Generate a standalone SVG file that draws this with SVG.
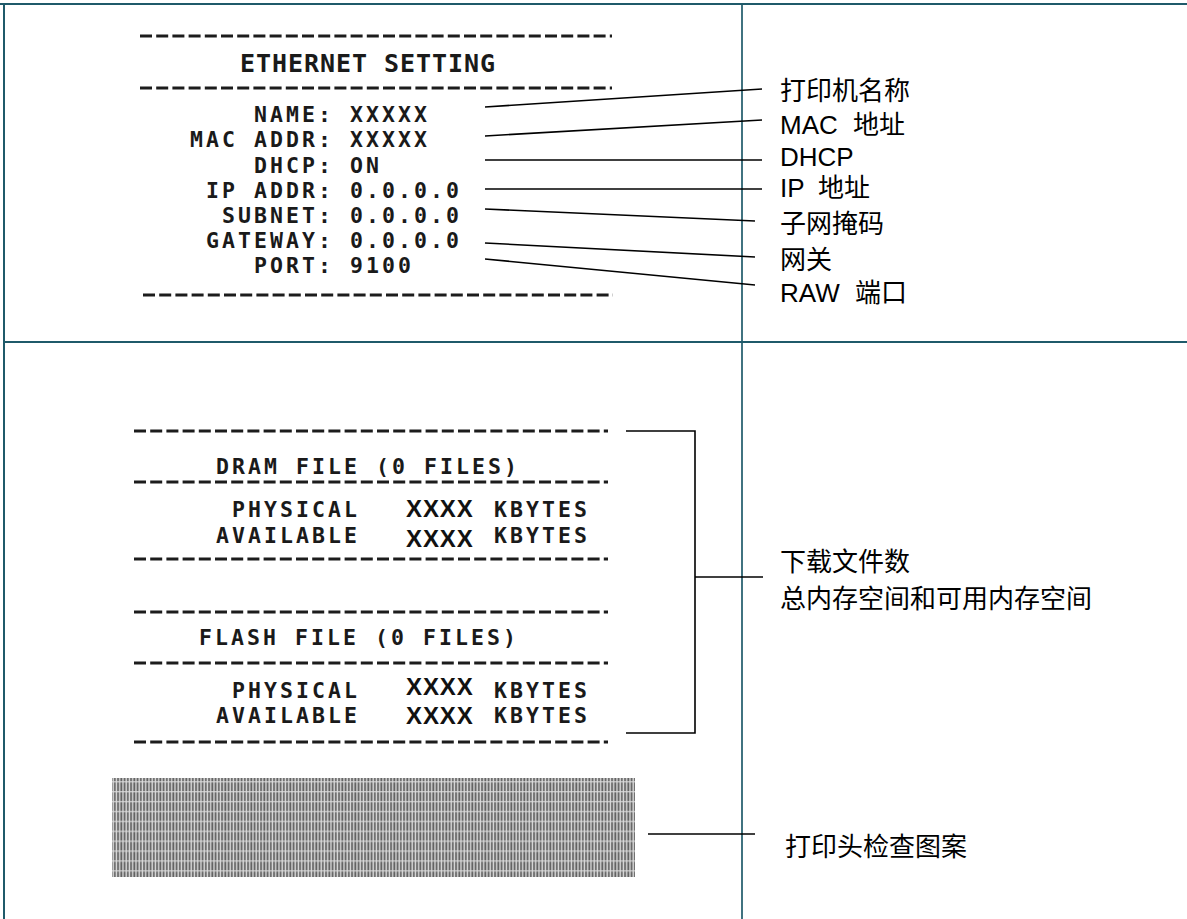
<svg xmlns="http://www.w3.org/2000/svg" width="1187" height="919" viewBox="0 0 1187 919">
<style>
.frame{stroke:#1f5a6a;fill:none}
.dash{stroke:#1c1c1c;stroke-width:3;stroke-dasharray:12 4.2;fill:none}
.pr{font-family:"DejaVu Sans Mono","Liberation Mono",monospace;font-weight:bold;font-size:21.5px;letter-spacing:3.05px;fill:#1a1a1a}
.prt{font-family:"DejaVu Sans Mono","Liberation Mono",monospace;font-weight:bold;font-size:25px;letter-spacing:0.95px;fill:#1a1a1a}
.xx{font-family:"Liberation Sans",Arial,sans-serif;font-weight:bold;font-size:24px;letter-spacing:0.9px;fill:#111}
.lbl{font-family:"Liberation Sans","Noto Sans CJK SC",sans-serif;font-size:26px;fill:#000}
.con line,.con path{stroke:#000;stroke-width:1.6;fill:none}
</style>
<defs>
<pattern id="stripes" patternUnits="userSpaceOnUse" width="3.25" height="9.9">
<rect x="0" y="0" width="3.25" height="9.9" fill="#dcdcdc"/>
<rect x="0.2" y="0.3" width="1.8" height="8.8" fill="#606060"/>
</pattern>
</defs>
<rect width="1187" height="919" fill="#fff"/>

<g id="frame">
<line class="frame" x1="0" y1="4" x2="1187" y2="4" stroke-width="2"/>
<line class="frame" x1="4" y1="3" x2="4" y2="919" stroke-width="2"/>
<line class="frame" x1="4" y1="342" x2="1187" y2="342" stroke-width="2.2"/>
<line class="frame" x1="742" y1="4" x2="742" y2="919" stroke-width="1.7"/>
</g>

<g id="ethernet-printout">
<line class="dash" x1="140" y1="36" x2="612" y2="36"/>
<text class="prt" x="240" y="72">ETHERNET SETTING</text>
<line class="dash" x1="140" y1="88" x2="612" y2="88"/>
<text class="pr" x="254" y="122">NAME:</text><text class="pr" x="350" y="122">XXXXX</text>
<text class="pr" x="190" y="147">MAC ADDR:</text><text class="pr" x="350" y="147">XXXXX</text>
<text class="pr" x="254" y="173">DHCP:</text><text class="pr" x="350" y="173">ON</text>
<text class="pr" x="206" y="198">IP ADDR:</text><text class="pr" x="350" y="198">0.0.0.0</text>
<text class="pr" x="222" y="223">SUBNET:</text><text class="pr" x="350" y="223">0.0.0.0</text>
<text class="pr" x="206" y="248">GATEWAY:</text><text class="pr" x="350" y="248">0.0.0.0</text>
<text class="pr" x="254" y="273">PORT:</text><text class="pr" x="350" y="273">9100</text>
<line class="dash" x1="143" y1="295" x2="613" y2="295"/>
</g>

<g id="ethernet-labels">
<text class="lbl" x="780" y="100">打印机名称</text>
<text class="lbl" x="780" y="134"><tspan>MAC </tspan><tspan x="853">地址</tspan></text>
<text class="lbl" x="780" y="166">DHCP</text>
<text class="lbl" x="780" y="197"><tspan>IP </tspan><tspan x="818">地址</tspan></text>
<text class="lbl" x="780" y="233">子网掩码</text>
<text class="lbl" x="780" y="269">网关</text>
<text class="lbl" x="780" y="302"><tspan>RAW </tspan><tspan x="855">端口</tspan></text>
</g>

<g id="dram-printout">
<line class="dash" x1="134" y1="431" x2="608" y2="431"/>
<text class="pr" x="216" y="474">DRAM FILE (0 FILES)</text>
<line class="dash" x1="134" y1="482" x2="608" y2="482"/>
<text class="pr" x="232" y="517">PHYSICAL</text><text class="xx" x="406" y="517">XXXX</text><text class="pr" x="494" y="517">KBYTES</text>
<text class="pr" x="216" y="543">AVAILABLE</text><text class="xx" x="406" y="547">XXXX</text><text class="pr" x="494" y="543">KBYTES</text>
<line class="dash" x1="134" y1="559" x2="608" y2="559"/>
</g>

<g id="flash-printout">
<line class="dash" x1="134" y1="612" x2="608" y2="612"/>
<text class="pr" x="199" y="645">FLASH FILE (0 FILES)</text>
<line class="dash" x1="134" y1="663" x2="608" y2="663"/>
<text class="pr" x="232" y="698">PHYSICAL</text><text class="xx" x="406" y="695">XXXX</text><text class="pr" x="494" y="698">KBYTES</text>
<text class="pr" x="216" y="723">AVAILABLE</text><text class="xx" x="406" y="724">XXXX</text><text class="pr" x="494" y="723">KBYTES</text>
<line class="dash" x1="134" y1="742" x2="608" y2="742"/>
</g>

<g id="memory-label">
<text class="lbl" x="780" y="571">下载文件数</text>
<text class="lbl" x="780" y="608">总内存空间和可用内存空间</text>
</g>

<g id="test-pattern">
<rect x="112" y="778" width="523" height="99" fill="url(#stripes)"/>
</g>

<g id="test-pattern-label">
<text class="lbl" x="785" y="856">打印头检查图案</text>
</g>

<g id="connectors" class="con">
<line x1="485" y1="107" x2="762" y2="89"/>
<line x1="485" y1="136" x2="762" y2="120"/>
<line x1="485" y1="160" x2="762" y2="160"/>
<line x1="485" y1="189" x2="762" y2="189"/>
<line x1="485" y1="209" x2="755" y2="221"/>
<line x1="485" y1="243" x2="755" y2="257"/>
<line x1="485" y1="259" x2="755" y2="285"/>
<path d="M626 431 H695 V733 H626"/>
<line x1="695" y1="577" x2="763" y2="577"/>
<line x1="648" y1="834" x2="755" y2="834"/>
</g>
</svg>
